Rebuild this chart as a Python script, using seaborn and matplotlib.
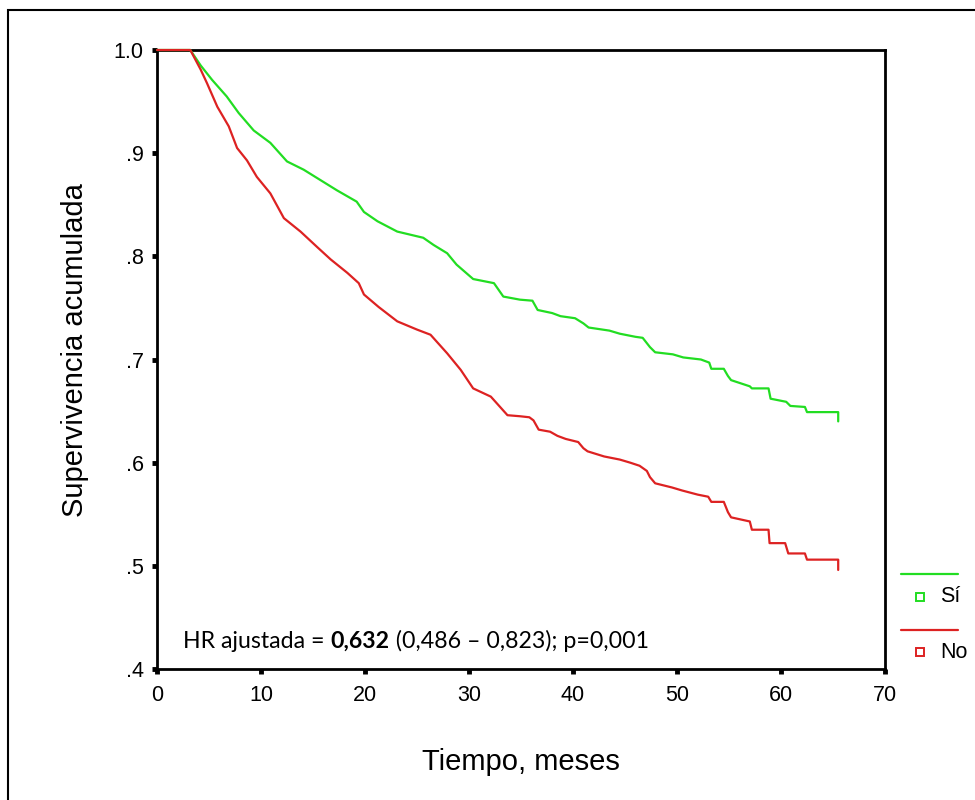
import numpy as np
import pandas as pd
import matplotlib
matplotlib.use("Agg")
import matplotlib.pyplot as plt
from matplotlib.lines import Line2D
from matplotlib.patches import Rectangle
import seaborn as sns

# Curva Kaplan-Meier: grupo "Sí"
tiempo_si = [0, 3.2, 4.2, 5.3, 6.7, 7.85, 9.3, 10.9, 12.5, 14.1, 15.7, 17.3, 19.2, 19.9,
             21.2, 23.1, 25.6, 26.6, 27.9, 28.8, 30.4, 32.4, 33.3, 34.9, 36.1, 36.6, 38.0,
             38.8, 40.2, 41.0, 41.5, 43.5, 44.5, 46.0, 46.7, 47.4, 47.9, 49.6, 50.6, 52.3,
             53.1, 53.3, 54.5, 54.9, 55.2, 57.0, 57.2, 58.8, 59.0, 60.5, 60.9, 62.3, 62.5,
             65.5, 65.5]
superv_si = [1.0, 1.0, .985, .971, .955, .939, .922, .910, .892, .884, .874, .864, .853, .843,
             .834, .824, .818, .811, .803, .792, .778, .774, .761, .758, .757, .748, .745,
             .742, .740, .735, .731, .728, .725, .722, .721, .712, .707, .705, .702, .700,
             .697, .691, .691, .684, .680, .674, .672, .672, .662, .659, .655, .654, .649,
             .649, .640]

# grupo "No"
tiempo_no = [0, 3.2, 4.2, 4.8, 5.8, 6.9, 7.7, 8.65, 9.6, 10.9, 12.2, 13.8, 15.4, 16.7, 18.3,
             19.4, 19.9, 21.3, 23.1, 25.0, 26.3, 27.9, 29.2, 30.4, 32.1, 33.7, 34.9, 35.8,
             36.2, 36.7, 37.8, 38.5, 39.3, 40.5, 41.0, 41.4, 43.0, 44.5, 45.5, 46.4, 47.1,
             47.4, 47.9, 49.5, 50.5, 52.0, 53.0, 53.3, 54.5, 54.9, 55.2, 57.0, 57.2, 58.8,
             58.9, 60.4, 60.7, 62.3, 62.5, 65.5, 65.5]
superv_no = [1.0, 1.0, .981, .968, .945, .926, .905, .893, .877, .861, .837, .824, .809, .797,
             .784, .774, .763, .751, .737, .729, .724, .706, .690, .672, .664, .646, .645,
             .644, .641, .632, .630, .626, .623, .620, .614, .611, .606, .603, .600, .597,
             .592, .586, .580, .576, .573, .569, .567, .562, .562, .552, .547, .543, .535,
             .535, .522, .522, .512, .512, .506, .506, .496]

grupos = ["Sí", "No"]
colores = {"Sí": "#22dd22", "No": "#dd2222"}

x_ticks = [0, 10, 20, 30, 40, 50, 60, 70]
y_ticks = [.4, .5, .6, .7, .8, .9, 1.0]
y_tick_labels = [".4", ".5", ".6", ".7", ".8", ".9", "1.0"]

texto_hr = ["HR ajustada = ", "0,632", " (0,486 \u2013 0,823); p=0,001"]

datos = pd.concat([
    pd.DataFrame({"tiempo": tiempo_si, "superv": superv_si, "grupo": "Sí"}),
    pd.DataFrame({"tiempo": tiempo_no, "superv": superv_no, "grupo": "No"}),
], ignore_index=True)

sns.set_style("white")
plt.rcParams["font.family"] = ["Liberation Sans", "DejaVu Sans"]
plt.rcParams["text.color"] = "black"
plt.rcParams["axes.labelcolor"] = "black"

fig = plt.figure(figsize=(9.75, 8), dpi=100)
ax = fig.add_axes([157 / 975, 1 - 669 / 800, 728 / 975, 619 / 800])

for g in grupos:
    sns.lineplot(data=datos[datos["grupo"] == g], x="tiempo", y="superv",
                 color=colores[g], lw=1.6, sort=False, estimator=None, ax=ax,
                 zorder=3, clip_on=False)

ax.set_xlim(0, 70)
ax.set_ylim(0.4, 1.0)
ax.set_xticks(x_ticks)
ax.set_yticks(y_ticks)
ax.set_yticklabels(y_tick_labels)

for s in ax.spines.values():
    s.set_visible(True)
    s.set_color("black")
    s.set_linewidth(2)

ax.tick_params(axis="both", direction="out", length=3.5, width=3.5, color="black",
               labelsize=15.5, labelcolor="black", bottom=True, left=True)
ax.tick_params(axis="y", pad=6)
ax.tick_params(axis="x", pad=8)

ax.set_xlabel("Tiempo, meses", fontsize=21, va="center")
ax.xaxis.set_label_coords(0.5, -0.150)
ax.set_ylabel("Supervivencia acumulada", fontsize=21, va="center", ha="center")
ax.yaxis.set_label_coords(-0.1126, 0.515)

# texto del HR con la parte central en negrita
t1 = fig.text(183 / 975, 1 - 648 / 800, texto_hr[0], family=["Lato", "DejaVu Sans"],
              fontsize=16.7, va="baseline")
t2 = ax.annotate(texto_hr[1], xy=(1, 0), xycoords=t1, va="bottom",
                 family=["Lato", "DejaVu Sans"], fontsize=16.7, fontweight="bold")
ax.annotate(texto_hr[2], xy=(1, 0), xycoords=t2, va="bottom",
            family=["Lato", "DejaVu Sans"], fontsize=16.7)

# leyenda estilo SPSS: linea arriba, cuadro y etiqueta debajo
for g, y_linea, y_txt in [("Sí", 574, 597), ("No", 630, 652)]:
    fig.add_artist(Line2D([901 / 975, 958 / 975], [1 - y_linea / 800] * 2,
                          color=colores[g], lw=1.6))
    fig.add_artist(Line2D([920 / 975], [1 - y_txt / 800], marker="s", markersize=6,
                          markerfacecolor="white", markeredgecolor=colores[g], mew=1.4,
                          linestyle="none"))
    fig.text(940 / 975, 1 - y_txt / 800, g, fontsize=15.5, va="center")

# marco exterior
fig.add_artist(Rectangle((8 / 975, -0.1), 1.2, 1.1 - 10 / 800, transform=fig.transFigure,
                         fill=False, edgecolor="black", lw=1.5))

fig.savefig("out.png", dpi=100)
